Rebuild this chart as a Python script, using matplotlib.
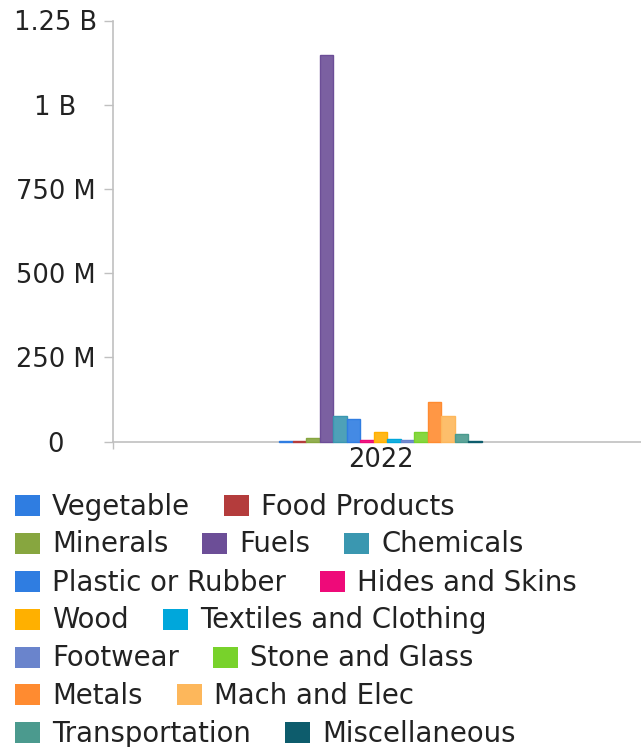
import matplotlib
matplotlib.use("Agg")
import matplotlib.pyplot as plt
from matplotlib.patches import Rectangle
import matplotlib.colors as mcolors
import numpy as np

# ---------------- data ----------------
year_label = "2022"
categories = ["Vegetable", "Food Products", "Minerals", "Fuels", "Chemicals",
              "Plastic or Rubber", "Hides and Skins", "Wood", "Textiles and Clothing",
              "Footwear", "Stone and Glass", "Metals", "Mach and Elec",
              "Transportation", "Miscellaneous"]
values = [1.0e6, 1.0e6, 9.5e6, 1.148e9, 76e6,
          66e6, 4e6, 27e6, 7e6,
          3e6, 27e6, 116e6, 77e6,
          21e6, 1.5e6]
colors = ["#2F7DE1", "#B43C3C", "#87A63F", "#6C4E97", "#3A97B0",
          "#2F7DE1", "#EE0A79", "#FFB000", "#00A7DB",
          "#6A84CC", "#78D22B", "#FF8B30", "#FDB75B",
          "#4B9A8E", "#0D5C6C"]
ytick_values = [0, 250e6, 500e6, 750e6, 1000e6, 1250e6]
ytick_labels = ["0", "250 M", "500 M", "750 M", "1 B", "1.25 B"]
legend_rows = [[0, 1], [2, 3, 4], [5, 6], [7, 8], [9, 10], [11, 12], [13, 14]]

# ---------------- figure ----------------
W, H = 641, 747
DPI = 100
fig = plt.figure(figsize=(W / DPI, H / DPI), dpi=DPI)
plt.rcParams['font.family'] = ['DejaVu Sans']

def px2fig(x, y):
    return x / W, 1 - y / H

ax_left, ax_top, ax_right, ax_bottom = 113, 20.5, 641, 441.5
ax = fig.add_axes([ax_left / W, 1 - ax_bottom / H, (ax_right - ax_left) / W,
                   (ax_bottom - ax_top) / H])

n = len(categories)
group_w = 0.378
bar_w = group_w / n
x0 = -group_w / 2 + bar_w / 2
for i, (v, c) in enumerate(zip(values, colors)):
    rgb = np.array(mcolors.to_rgb(c))
    face = rgb * 0.9 + 0.1
    ax.bar(x0 + i * bar_w, v, width=bar_w, color=face, edgecolor=c,
           linewidth=1.0, clip_on=False, zorder=4)

ax.set_xlim(-0.5, 0.487)
ax.set_ylim(0, 1.25e9)

grey = "#c0c0c0"
for s in ["top", "right"]:
    ax.spines[s].set_visible(False)
for s in ["left", "bottom"]:
    ax.spines[s].set_color(grey)
    ax.spines[s].set_linewidth(1.2)
    ax.spines[s].set_zorder(1)

ax.set_yticks(ytick_values)
ax.set_yticklabels(ytick_labels, ha="center")
ax.tick_params(axis="y", length=6.5, width=1, color=grey, pad=35,
               labelsize=18.5, labelcolor="#222222")
ax.set_xticks([0])
ax.set_xticklabels([year_label])
ax.tick_params(axis="x", length=0, pad=4, labelsize=18.5, labelcolor="#222222")
ax.set_xticks([-0.5], minor=True)
ax.tick_params(axis="x", which="minor", length=5, width=1, color=grey)

# ---------------- legend (flow layout) ----------------
renderer = fig.canvas.get_renderer()
row_centers = [505.5, 543, 581.5, 619, 657, 694.5, 732.5]
sq_w, sq_h = 25, 21
for r, row in enumerate(legend_rows):
    cy = row_centers[r]
    x = 15
    for idx in row:
        fx, fy = px2fig(x, cy + sq_h / 2)
        fig.patches.append(Rectangle((fx, fy), sq_w / W, sq_h / H,
                                     transform=fig.transFigure,
                                     facecolor=colors[idx], edgecolor="none"))
        tx, ty = px2fig(x + sq_w + 12, cy + 9.5)
        t = fig.text(tx, ty, categories[idx], fontsize=19.8, color="#222222",
                     va="baseline", ha="left")
        wpx = t.get_window_extent(renderer).width
        x = x + sq_w + 12 + wpx + 34

fig.savefig("out.png", dpi=DPI)
